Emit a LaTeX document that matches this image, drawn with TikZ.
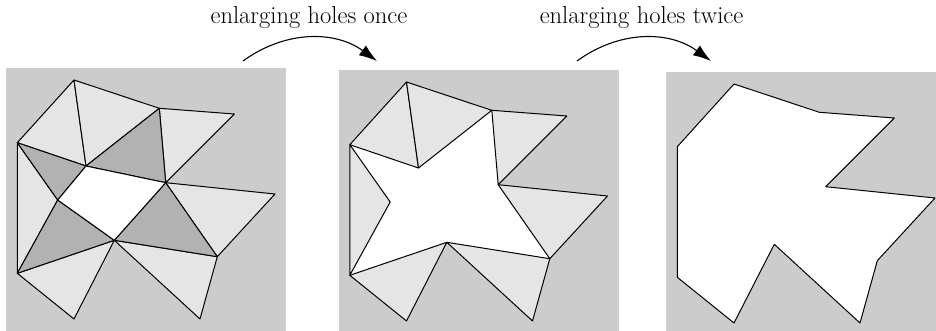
\documentclass[tikz,border=0pt]{standalone}
\usetikzlibrary{arrows.meta}
\definecolor{bgc}{gray}{0.8}
\definecolor{lightc}{gray}{0.9}
\definecolor{darkc}{gray}{0.7}
\tikzset{
  panelbg/.style={fill=bgc},
  lighttri/.style={fill=lightc,draw=black,line width=1pt,line join=round},
  darktri/.style={fill=darkc,draw=black,line width=1pt,line join=round},
  holefill/.style={fill=white},
  outline/.style={fill=white,draw=black,line width=1pt,line join=round},
  bigarrow/.style={line width=1.1pt,-{Latex[length=18pt,width=12pt]}},
  caption/.style={font=\fontsize{24.5}{29}\selectfont,anchor=base,inner sep=0pt}
}
\newcommand{\mkpts}[1]{%
  \coordinate (#1A) at (74,80);
  \coordinate (#1B) at (159.3,108.3);
  \coordinate (#1C) at (234.3,114);
  \coordinate (#1D) at (17.3,142.7);
  \coordinate (#1E) at (86,166);
  \coordinate (#1F) at (165.7,182.7);
  \coordinate (#1G) at (275,194);
  \coordinate (#1H) at (57.7,200);
  \coordinate (#1I) at (114.3,240.3);
  \coordinate (#1J) at (217.3,256.7);
  \coordinate (#1K) at (17.3,273.3);
  \coordinate (#1L) at (74,319);
  \coordinate (#1M) at (200,319);
}
\newcommand{\lighttris}[1]{%
  \filldraw[lighttri] (#1A) -- (#1D) -- (#1E) -- cycle;
  \filldraw[lighttri] (#1A) -- (#1B) -- (#1E) -- cycle;
  \filldraw[lighttri] (#1B) -- (#1C) -- (#1F) -- cycle;
  \filldraw[lighttri] (#1D) -- (#1H) -- (#1K) -- cycle;
  \filldraw[lighttri] (#1F) -- (#1G) -- (#1J) -- cycle;
  \filldraw[lighttri] (#1K) -- (#1I) -- (#1L) -- cycle;
  \filldraw[lighttri] (#1I) -- (#1M) -- (#1J) -- cycle;
}
\begin{document}
\begin{tikzpicture}[x=1pt,y=-1pt]
\useasboundingbox (0,0) rectangle (936,331);
\clip (0,0) rectangle (936,331);
% panel 1
\begin{scope}
  \fill[panelbg] (6,68) rectangle (286,335);
  \mkpts{p}
  \lighttris{p}
  \filldraw[darktri] (pD) -- (pE) -- (pH) -- cycle;
  \filldraw[darktri] (pB) -- (pE) -- (pF) -- cycle;
  \filldraw[darktri] (pF) -- (pI) -- (pJ) -- cycle;
  \filldraw[darktri] (pH) -- (pI) -- (pK) -- cycle;
  \filldraw[outline] (pE) -- (pF) -- (pI) -- (pH) -- cycle;
\end{scope}
% panel 2
\begin{scope}[shift={(332.5,2)}]
  \fill[panelbg] (6,68) rectangle (286,335);
  \mkpts{q}
  \fill[holefill] (qD) -- (qE) -- (qB) -- (qF) -- (qJ) -- (qI) -- (qK) -- (qH) -- cycle;
  \lighttris{q}
\end{scope}
% panel 3
\begin{scope}[shift={(660,4)}]
  \fill[panelbg] (6,68) rectangle (286,335);
  \mkpts{r}
  \filldraw[outline] (rA) -- (rB) -- (rC) -- (rF) -- (rG) -- (rJ) -- (rM) -- (rI) -- (rL) -- (rK) -- (rD) -- cycle;
\end{scope}
% arrows and captions
\coordinate (a1s) at (243,61);
\coordinate (a1e) at (377,61);
\coordinate (a2s) at (577,61);
\coordinate (a2e) at (711,61);
\draw[bigarrow] (a1s) to[bend left=36] (a1e);
\draw[bigarrow] (a2s) to[bend left=36] (a2e);
\node[caption] (t1) at (309,24) {enlarging holes once};
\node[caption] (t2) at (641.5,24) {enlarging holes twice};
\end{tikzpicture}
\end{document}
